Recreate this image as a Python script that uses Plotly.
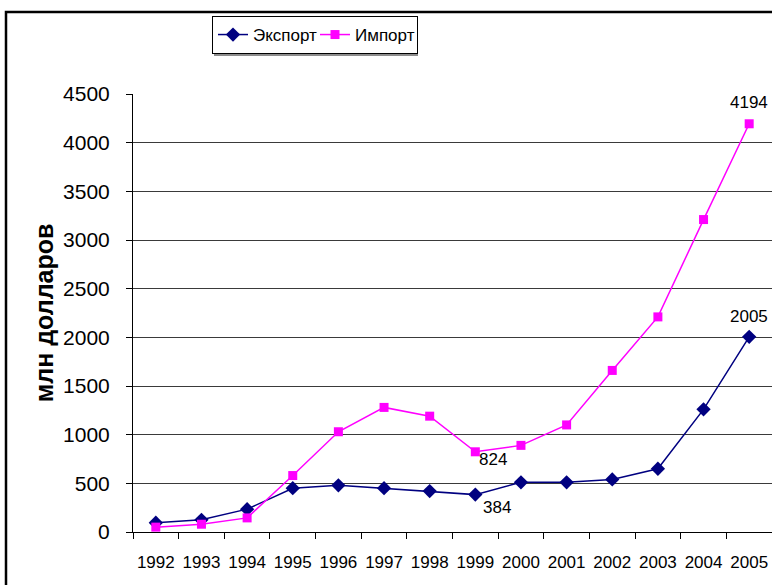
import plotly.graph_objects as go

# Годы и значения (млн долларов)
years = ["1992", "1993", "1994", "1995", "1996", "1997", "1998",
         "1999", "2000", "2001", "2002", "2003", "2004", "2005"]
export_vals = [95, 125, 235, 450, 480, 450, 420, 384, 510, 510, 540, 650, 1260, 2005]
import_vals = [50, 80, 145, 580, 1030, 1280, 1190, 824, 890, 1100, 1660, 2210, 3210, 4194]

y_ticks = [0, 500, 1000, 1500, 2000, 2500, 3000, 3500, 4000, 4500]

# Подписанные точки: (серия, индекс года, смещение подписи)
labelled = [
    (import_vals, 13, dict(xanchor="center", yanchor="bottom", xshift=0, yshift=10)),
    (export_vals, 13, dict(xanchor="center", yanchor="bottom", xshift=0, yshift=9)),
    (import_vals, 7, dict(xanchor="left", yanchor="top", xshift=2, yshift=4)),
    (export_vals, 7, dict(xanchor="left", yanchor="top", xshift=6, yshift=-1)),
]

FONT = "Liberation Sans, Arial, sans-serif"


def px_x(p):
    """Pixel column -> paper x (plot area spans 133..772)."""
    return (p - 133) / 639


def px_y(p):
    """Pixel row -> paper y (plot area spans 94..532)."""
    return (532 - p) / 438


fig = go.Figure()
fig.add_trace(go.Scatter(
    x=years, y=export_vals, name="Экспорт", mode="lines+markers",
    line=dict(color="#000080", width=1.5),
    marker=dict(symbol="diamond", size=11, color="#000080"),
))
fig.add_trace(go.Scatter(
    x=years, y=import_vals, name="Импорт", mode="lines+markers",
    line=dict(color="#FF00FF", width=1.5),
    marker=dict(symbol="square", size=9, color="#FF00FF"),
))

# Value labels; x is the category index on the category axis
for series, i, pos in labelled:
    fig.add_annotation(
        x=i, y=series[i], text=str(series[i]), showarrow=False,
        font=dict(family=FONT, size=17, color="black"), **pos,
    )

# Y-axis caption
fig.add_annotation(
    x=-0.139, y=0.5, xref="paper", yref="paper", text="<b>млн долларов</b>",
    textangle=-90, showarrow=False, xanchor="center", yanchor="middle",
    font=dict(family=FONT, size=25, color="black"),
)

# Outer chart frame
fig.add_shape(
    type="rect", xref="paper", yref="paper",
    x0=px_x(6), x1=1.2, y0=-0.4, y1=px_y(12),
    line=dict(color="black", width=2.5), fillcolor="rgba(0,0,0,0)", layer="below",
)

# Drop shadow behind the legend box
fig.add_shape(
    type="rect", xref="paper", yref="paper",
    x0=px_x(214), x1=px_x(418), y0=px_y(56), y1=px_y(18),
    line=dict(width=0), fillcolor="#8c8c8c", layer="above",
)

fig.update_layout(
    template="none",
    width=772, height=585,
    margin=dict(l=133, r=0, t=94, b=53),
    paper_bgcolor="white", plot_bgcolor="white",
    showlegend=True,
    legend=dict(
        orientation="h", x=px_x(212), y=px_y(16), xanchor="left", yanchor="top",
        bgcolor="white", bordercolor="black", borderwidth=1,
        font=dict(family=FONT, size=17, color="black"),
        itemwidth=30, entrywidth=57, tracegroupgap=0,
    ),
    xaxis=dict(
        type="category", range=[-0.5, len(years) - 0.5],
        tickson="boundaries", ticks="outside", ticklen=6, tickangle=0,
        tickcolor="black", showline=True, linecolor="black", linewidth=1,
        showgrid=False, zeroline=False, ticklabelstandoff=15,
        tickfont=dict(family=FONT, size=17, color="black"),
        automargin=False,
    ),
    yaxis=dict(
        range=[0, 4500], tickvals=y_ticks, ticktext=[str(v) for v in y_ticks],
        ticks="outside", ticklen=6, tickcolor="black",
        showline=True, linecolor="black", linewidth=1,
        showgrid=True, gridcolor="#3a3a3a", gridwidth=1, zeroline=False,
        ticklabelstandoff=12,
        tickfont=dict(family=FONT, size=21, color="black"),
        automargin=False,
    ),
)

fig.write_html("out.html")
